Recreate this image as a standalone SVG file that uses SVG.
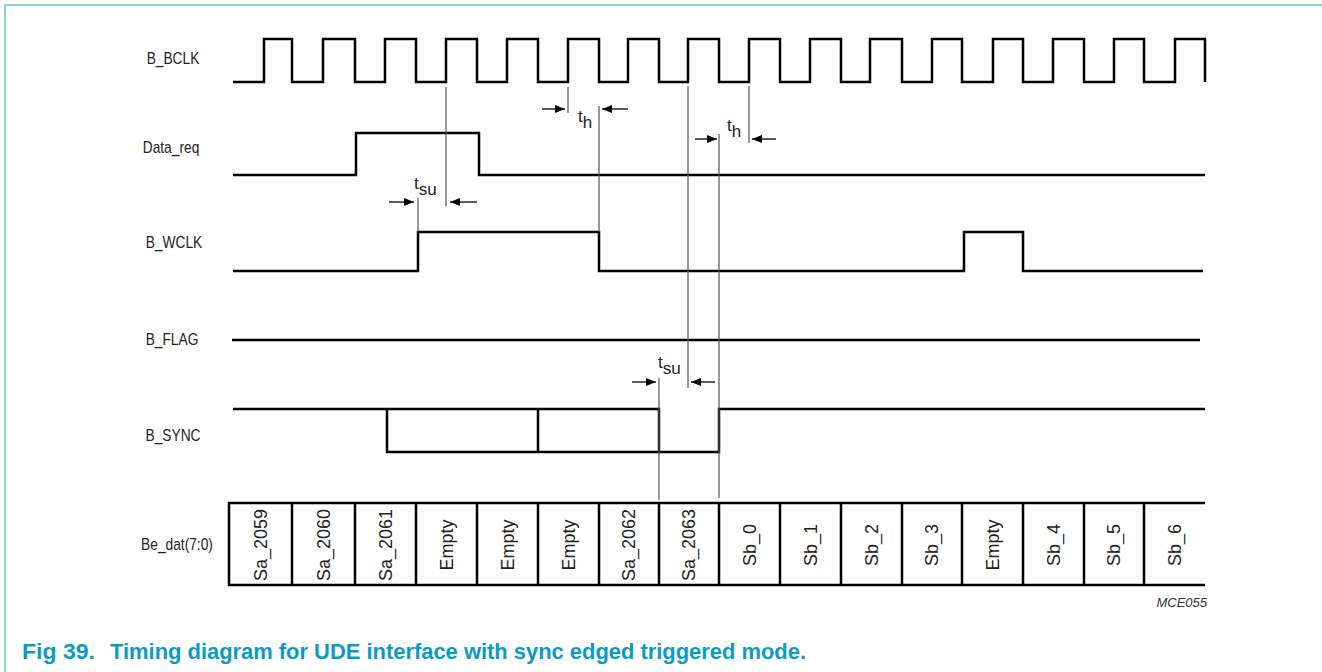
<svg xmlns="http://www.w3.org/2000/svg" width="1322" height="672" viewBox="0 0 1322 672">
<defs>
<marker id="ah" viewBox="0 0 10 8" refX="10" refY="4" markerWidth="10" markerHeight="8" markerUnits="userSpaceOnUse" orient="auto">
<path d="M0,0 L10,4 L0,8 Z" fill="#000"/>
</marker>
</defs>
<style>
.sig{fill:none;stroke:#000;stroke-width:2.5;stroke-linejoin:miter}
.tl{fill:none;stroke:#555;stroke-width:1.2}
.arr{stroke:#000;stroke-width:1.3;marker-end:url(#ah)}
.lbl{font-family:"Liberation Sans",Arial,sans-serif;font-size:16px;fill:#222;text-anchor:middle}
.cell{font-family:"Liberation Sans",Arial,sans-serif;font-size:18px;fill:#222;text-anchor:middle}
.tm{font-family:"Liberation Sans",Arial,sans-serif;font-size:17px;fill:#222}
.cap{font-family:"Liberation Sans",Arial,sans-serif;font-size:22px;font-weight:bold;fill:#0A9AC8}
</style>
<g id="frame">
<path d="M5,672 V5 H1322" fill="none" stroke="#5BC4DA" stroke-width="1.5"/>
</g>
<g id="labels">
<text class="lbl" transform="translate(173,64) scale(0.86,1)">B_BCLK</text>
<text class="lbl" transform="translate(171,153) scale(0.86,1)">Data_req</text>
<text class="lbl" transform="translate(174,248) scale(0.86,1)">B_WCLK</text>
<text class="lbl" transform="translate(172,345) scale(0.86,1)">B_FLAG</text>
<text class="lbl" transform="translate(173,441) scale(0.86,1)">B_SYNC</text>
<text class="lbl" transform="translate(177,550) scale(0.86,1)">Be_dat(7:0)</text>
</g>
<g id="B_BCLK">
<path class="sig" d="M233,82 H264 V39 H292 V82 H323 V39 H355 V82 H385 V39 H416 V82 H446 V39 H477 V82 H507 V39 H538 V82 H568 V39 H599 V82 H628 V39 H659 V82 H688 V39 H719 V82 H749 V39 H780 V82 H810 V39 H841 V82 H870 V39 H902 V82 H932 V39 H962 V82 H993 V39 H1023 V82 H1053 V39 H1084 V82 H1114 V39 H1144 V82 H1175 V39 H1205 V82"/>
</g>
<g id="Data_req">
<path class="sig" d="M233,175 H356 V133 H479 V175 H1205"/>
</g>
<g id="B_WCLK">
<path class="sig" d="M233,271 H418 V232 H599 V271 H964 V232 H1023 V271 H1203"/>
</g>
<g id="B_FLAG">
<path class="sig" d="M232,340 H1200"/>
</g>
<g id="B_SYNC">
<path class="sig" d="M233,409 H659 V452 M387,409 V452 H719 V409 H1205 M538,409 V452"/>
</g>
<g id="Be_dat">
<path class="sig" d="M1205,503 H229 V585 H1205 M292,503 V585 M355,503 V585 M416,503 V585 M477,503 V585 M538,503 V585 M599,503 V585 M659,503 V585 M719,503 V585 M780,503 V585 M841,503 V585 M902,503 V585 M962,503 V585 M1023,503 V585 M1084,503 V585 M1144,503 V585"/>
<text class="cell" transform="translate(266.5,545) rotate(-90)">Sa_2059</text>
<text class="cell" transform="translate(329.5,545) rotate(-90)">Sa_2060</text>
<text class="cell" transform="translate(391.5,545) rotate(-90)">Sa_2061</text>
<text class="cell" transform="translate(452.5,545) rotate(-90)">Empty</text>
<text class="cell" transform="translate(513.5,545) rotate(-90)">Empty</text>
<text class="cell" transform="translate(574.5,545) rotate(-90)">Empty</text>
<text class="cell" transform="translate(635,545) rotate(-90)">Sa_2062</text>
<text class="cell" transform="translate(695,545) rotate(-90)">Sa_2063</text>
<text class="cell" transform="translate(755.5,545) rotate(-90)">Sb_0</text>
<text class="cell" transform="translate(816.5,545) rotate(-90)">Sb_1</text>
<text class="cell" transform="translate(877.5,545) rotate(-90)">Sb_2</text>
<text class="cell" transform="translate(938,545) rotate(-90)">Sb_3</text>
<text class="cell" transform="translate(998.5,545) rotate(-90)">Empty</text>
<text class="cell" transform="translate(1059.5,545) rotate(-90)">Sb_4</text>
<text class="cell" transform="translate(1120,545) rotate(-90)">Sb_5</text>
<text class="cell" transform="translate(1180.5,545) rotate(-90)">Sb_6</text>
</g>
<g id="connectors">
<path class="tl" d="M446,87 V206 M418,198 V232 M568,87 V113 M599,106 V232 M688,86 V388 M749,86 V143 M719,134 V498 M659,378 V500"/>
<line class="arr" x1="389" y1="202" x2="414" y2="202"/>
<line class="arr" x1="477" y1="202" x2="450" y2="202"/>
<line class="arr" x1="542" y1="109" x2="565" y2="109"/>
<line class="arr" x1="628" y1="109" x2="602" y2="109"/>
<line class="arr" x1="695" y1="139" x2="717" y2="139"/>
<line class="arr" x1="776" y1="139" x2="752" y2="139"/>
<line class="arr" x1="632" y1="382" x2="656" y2="382"/>
<line class="arr" x1="715" y1="382" x2="691" y2="382"/>
</g>
<g id="timing-labels">
<text class="tm" x="414" y="189">t<tspan dy="6">su</tspan></text>
<text class="tm" x="578" y="122">t<tspan dy="6">h</tspan></text>
<text class="tm" x="727" y="131">t<tspan dy="6">h</tspan></text>
<text class="tm" x="658" y="368">t<tspan dy="6">su</tspan></text>
</g>
<g id="caption">
<text x="1207" y="607" font-family="'Liberation Sans',Arial,sans-serif" font-size="13" font-style="italic" fill="#333" text-anchor="end">MCE055</text>
<text class="cap" x="22" y="659" textLength="73" lengthAdjust="spacingAndGlyphs">Fig 39.</text>
<text class="cap" x="110" y="659" textLength="696" lengthAdjust="spacingAndGlyphs">Timing diagram for UDE interface with sync edged triggered mode.</text>
</g>
</svg>
